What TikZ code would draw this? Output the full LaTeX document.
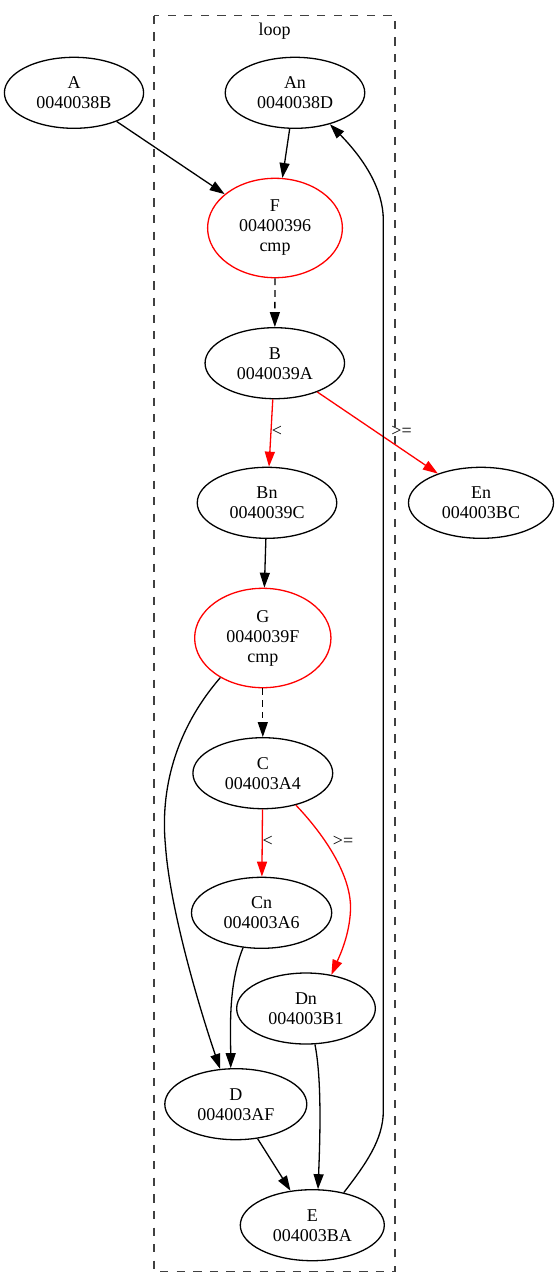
\documentclass[tikz,border=0pt]{standalone}
\usepackage{fontspec}
\setmainfont{Liberation Serif}
\usetikzlibrary{arrows.meta,shapes.geometric}
\tikzset{
  gnode/.style={ellipse,draw=black,line width=1.3pt,inner sep=0pt,align=center,
    font=\fontsize{18}{20}\selectfont,minimum height=71pt},
  cmpnode/.style={gnode,draw=red,minimum height=99.4pt},
  edge/.style={line width=1.3pt,draw=black,-{Triangle[length=15pt,width=10pt]}},
  redge/.style={edge,draw=red,-{Triangle[length=15pt,width=10pt,fill=red]}},
  dedge/.style={edge,dash pattern=on 6.7pt off 5pt},
  lab/.style={font=\fontsize{18}{20}\selectfont,inner sep=0pt},
  cluster/.style={draw=black!75,line width=1.3pt,dash pattern=on 8.3pt off 8.3pt}
}
\begin{document}
\begin{tikzpicture}[x=1pt,y=-1pt]
\useasboundingbox (0,0) rectangle (556,1288);
\draw[cluster] (154,15.7) rectangle (395,1271.3);
\node[lab] (loop) at (274.5,30.7) {loop};

\node[gnode,minimum width=139.2pt] (A)  at (74,92.8)     {A\\0040038B};
\node[gnode,minimum width=139.5pt] (An) at (295,92.8)    {An\\0040038D};
\node[cmpnode,minimum width=134.8pt] (F) at (275,228)    {F\\00400396\\cmp};
\node[gnode,minimum width=139.5pt] (B)  at (274.8,363.2) {B\\0040039A};
\node[gnode,minimum width=139.5pt] (Bn) at (267,502.8)   {Bn\\0040039C};
\node[gnode,minimum width=145pt]   (En) at (481,502.8)   {En\\004003BC};
\node[cmpnode,minimum width=136.3pt] (G) at (262.8,638)  {G\\0040039F\\cmp};
\node[gnode,minimum width=139.8pt] (C)  at (262.8,773.2) {C\\004003A4};
\node[gnode,minimum width=140.2pt] (Cn) at (261.6,912.8) {Cn\\004003A6};
\node[gnode,minimum width=138.7pt] (Dn) at (306,1008.5)  {Dn\\004003B1};
\node[gnode,minimum width=142pt]   (D)  at (235.8,1104.2){D\\004003AF};
\node[gnode,minimum width=144pt]   (E)  at (312.3,1225.2){E\\004003BA};

\draw[edge] (A) -- (F);
\draw[edge] (An) -- (F);
\draw[dedge] (F) -- (B);
\draw[redge] (B) -- (Bn);
\draw[redge] (B) -- (En);
\draw[edge] (Bn) -- (G);
\draw[dedge] (G) -- (C);
\draw[redge] (C) -- (Cn);
\draw[redge] (C.-44) .. controls (315,825) and (352,870) .. (350.5,910)
   .. controls (349.5,935) and (340,955) .. (Dn.53);
\draw[edge] (G.223) .. controls (175,730) and (160,790) .. (165.5,846)
   .. controls (170,910) and (200,1010) .. (D.114);
\draw[edge] (Cn.242) .. controls (228,985) and (230.6,1030) .. (D.98);
\draw[edge] (Dn.-76) .. controls (322,1080) and (320,1140) .. (E.81);
\draw[edge] (D) -- (E);
\draw[edge] (E.46) .. controls (365,1165) and (383.3,1140) .. (383.3,1111)
   -- (383.3,220) .. controls (383.3,190) and (365,160) .. (An.-42);

\node[lab] (l1) at (277,431.7) {<};
\node[lab] (l2) at (401.5,431.7) {>=};
\node[lab] (l3) at (267.6,841.7) {<};
\node[lab] (l4) at (343,841.7) {>=};
\end{tikzpicture}
\end{document}
